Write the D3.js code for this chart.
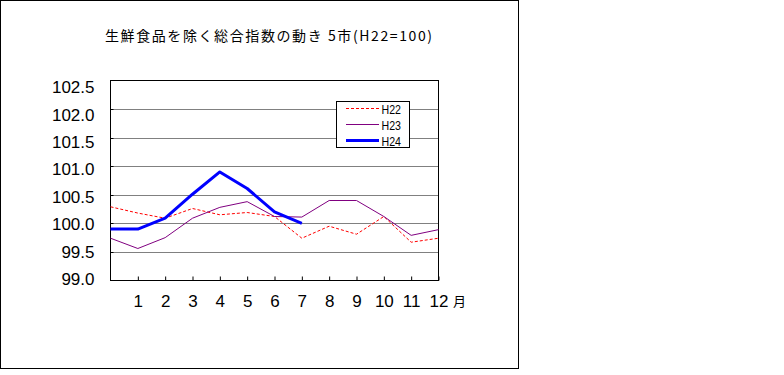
<!DOCTYPE html>
<html>
<head>
<meta charset="utf-8">
<script src="https://cdn.jsdelivr.net/npm/d3@7"></script>
<style>
  body { margin: 0; background: #fff; }
  svg { display: block; }
</style>
</head>
<body>
<svg id="chart"></svg>
<script>
// month slots: 0 = previous December, 1..12 = Jan..Dec
const months = [0, 1, 2, 3, 4, 5, 6, 7, 8, 9, 10, 11, 12];
const monthLabels = ["1", "2", "3", "4", "5", "6", "7", "8", "9", "10", "11", "12"];
const monthTicks = [1, 2, 3, 4, 5, 6, 7, 8, 9, 10, 11, 12];
const yTicks = [99.0, 99.5, 100.0, 100.5, 101.0, 101.5, 102.0, 102.5];

const h22 = [100.29, 100.18, 100.09, 100.26, 100.15, 100.19, 100.12, 99.74, 99.95, 99.81, 100.12, 99.67, 99.74];
const h23 = [99.74, 99.56, 99.75, 100.09, 100.28, 100.38, 100.12, 100.11, 100.40, 100.40, 100.12, 99.79, 99.89];
const h24 = [99.9, 99.9, 100.09, 100.51, 100.9, 100.61, 100.2, 100.0];

const seriesNames = ["H22", "H23", "H24"];
const title = "生鮮食品を除く総合指数の動き 5市(H22=100)";

const W = 784, H = 375;
const plot = { left: 110.5, right: 438.5, top: 80.5, bottom: 280.5 };
const axisFont = "'Liberation Sans', Arial, sans-serif";

const svg = d3.select("#chart").attr("width", W).attr("height", H);

// outer frame
svg.append("rect")
  .attr("x", 0.5).attr("y", 0.5)
  .attr("width", 518).attr("height", 368)
  .attr("fill", "#fff").attr("stroke", "#000").attr("stroke-width", 1);

// title
svg.append("text")
  .attr("x", 105).attr("y", 41)
  .attr("font-family", "'Noto Sans CJK JP', sans-serif")
  .attr("font-size", 14)
  .attr("textLength", 327)
  .attr("lengthAdjust", "spacing")
  .attr("fill", "#000")
  .text(title);

const x = d3.scaleLinear().domain([0, 12]).range([plot.left, plot.right]);
const y = d3.scaleLinear().domain([99, 102.5]).range([plot.bottom, plot.top]);
// Excel spreads the value labels slightly differently than the gridlines
const yLab = d3.scaleLinear().domain([99, 102.5]).range([279, 87.2]);

// gridlines
svg.append("g")
  .selectAll("line")
  .data(yTicks.filter(v => v > 99 && v < 102.5))
  .enter().append("line")
    .attr("x1", plot.left).attr("x2", plot.right)
    .attr("y1", d => Math.round(y(d)) + 0.5)
    .attr("y2", d => Math.round(y(d)) + 0.5)
    .attr("stroke", "#808080").attr("stroke-width", 1);

// plot frame
svg.append("rect")
  .attr("x", plot.left).attr("y", plot.top)
  .attr("width", plot.right - plot.left).attr("height", plot.bottom - plot.top)
  .attr("fill", "none").attr("stroke", "#000").attr("stroke-width", 1);

// y axis labels
const yAxis = svg.append("g")
  .attr("transform", "translate(94.5,0)")
  .call(d3.axisLeft(yLab).tickValues(yTicks).tickSize(0).tickPadding(0).tickFormat(d3.format(".1f")));
yAxis.select(".domain").remove();
yAxis.selectAll("text")
  .attr("font-family", axisFont)
  .attr("font-size", 17)
  .attr("fill", "#000");

// small inner ticks on left axis
svg.append("g")
  .selectAll("line")
  .data(yTicks.filter(v => v > 99 && v < 102.5))
  .enter().append("line")
    .attr("x1", plot.left).attr("x2", plot.left + 3)
    .attr("y1", d => Math.round(y(d)) + 0.5)
    .attr("y2", d => Math.round(y(d)) + 0.5)
    .attr("stroke", "#000");

// x axis
const xAxis = svg.append("g")
  .attr("transform", `translate(0,${plot.bottom})`)
  .call(d3.axisBottom(x).tickValues(monthTicks).tickSize(-4)
    .tickFormat((d, i) => monthLabels[i]));
xAxis.select(".domain").remove();
xAxis.selectAll("line").attr("stroke", "#000");
xAxis.selectAll("text")
  .attr("y", 26).attr("dy", 0)
  .attr("font-family", axisFont)
  .attr("font-size", 17)
  .attr("fill", "#000");

svg.append("text")
  .attr("x", 453).attr("y", 305.5)
  .attr("font-family", "'Noto Sans CJK JP', sans-serif")
  .attr("font-size", 13)
  .attr("fill", "#000")
  .text("月");

// lines
const line = d3.line()
  .x((d, i) => x(months[i]))
  .y(d => y(d));

const styles = [
  { data: h22, color: "#ff0000", width: 1, dash: "3,2" },
  { data: h23, color: "#800080", width: 1, dash: null },
  { data: h24, color: "#0000ff", width: 3, dash: null }
];

styles.forEach(s => {
  svg.append("path")
    .datum(s.data)
    .attr("d", line)
    .attr("fill", "none")
    .attr("stroke", s.color)
    .attr("stroke-width", s.width)
    .attr("stroke-dasharray", s.dash)
    .attr("stroke-linejoin", "round");
});

// legend
const lg = svg.append("g");
lg.append("rect")
  .attr("x", 336.5).attr("y", 101.5)
  .attr("width", 73).attr("height", 46)
  .attr("fill", "#fff").attr("stroke", "#000").attr("stroke-width", 1);

const legendY = [108.5, 124.5, 140.5];
styles.forEach((s, i) => {
  lg.append("line")
    .attr("x1", 346).attr("x2", 379)
    .attr("y1", legendY[i]).attr("y2", legendY[i])
    .attr("stroke", s.color)
    .attr("stroke-width", s.width)
    .attr("stroke-dasharray", s.dash);
  lg.append("text")
    .attr("x", 381.5).attr("y", legendY[i] + 5)
    .attr("font-family", "'Liberation Sans', sans-serif")
    .attr("font-size", 13)
    .attr("textLength", 19.5)
    .attr("lengthAdjust", "spacingAndGlyphs")
    .attr("fill", "#000")
    .text(seriesNames[i]);
});
</script>
</body>
</html>
